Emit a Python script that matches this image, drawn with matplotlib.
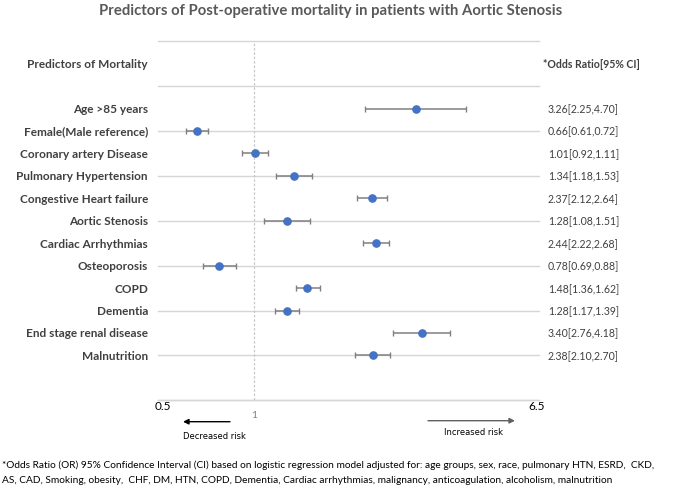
import matplotlib
matplotlib.use("Agg")
import matplotlib.pyplot as plt
from matplotlib.transforms import blended_transform_factory
import numpy as np

predictors = ["Age >85 years", "Female(Male reference)", "Coronary artery Disease",
              "Pulmonary Hypertension", "Congestive Heart failure", "Aortic Stenosis",
              "Cardiac Arrhythmias", "Osteoporosis", "COPD", "Dementia",
              "End stage renal disease", "Malnutrition"]
odds = [3.26, 0.66, 1.01, 1.34, 2.37, 1.28, 2.44, 0.78, 1.48, 1.28, 3.40, 2.38]
lower = [2.25, 0.61, 0.92, 1.18, 2.12, 1.08, 2.22, 0.69, 1.36, 1.17, 2.76, 2.10]
upper = [4.70, 0.72, 1.11, 1.53, 2.64, 1.51, 2.68, 0.88, 1.62, 1.39, 4.18, 2.70]
or_labels = ["3.26[2.25,4.70]", "0.66[0.61,0.72]", "1.01[0.92,1.11]", "1.34[1.18,1.53]",
             "2.37[2.12,2.64]", "1.28[1.08,1.51]", "2.44[2.22,2.68]", "0.78[0.69,0.88]",
             "1.48[1.36,1.62]", "1.28[1.17,1.39]", "3.40[2.76,4.18]", "2.38[2.10,2.70]"]

title = "Predictors of Post-operative mortality in patients with Aortic Stenosis"
footnote1 = ("*Odds Ratio (OR) 95% Confidence Interval (CI) based on logistic regression model adjusted for: "
             "age groups, sex, race, pulmonary HTN, ESRD,  CKD,")
footnote2 = ("AS, CAD, Smoking, obesity,  CHF, DM, HTN, COPD, Dementia, Cardiac arrhythmias, malignancy, "
             "anticoagulation, alcoholism, malnutrition")

W, H = 685, 489
fig = plt.figure(figsize=(W / 100, H / 100), dpi=100)
FONT = "Lato"
plt.rcParams["font.family"] = [FONT, "DejaVu Sans"]

L, R, T, B = 158.4, 539.0, 42.3, 401.3
ax = fig.add_axes([L / W, 1 - B / H, (R - L) / W, (B - T) / H])
ax.set_xscale("log")
ax.set_xlim(0.5, 8)
ax.set_ylim(14, -2)
for s in ax.spines.values():
    s.set_visible(False)
ax.set_xticks([])
ax.set_yticks([])
ax.xaxis.set_minor_locator(matplotlib.ticker.NullLocator())

for g in range(-2, 15, 2):
    ax.axhline(g, color="#d6d6d6", lw=1.0, zorder=1, clip_on=False)
ax.axvline(1, color="#c8c8c8", lw=0.9, ls=(0, (2, 1.5)), zorder=1)

ypos = np.arange(1, len(predictors) + 1)
odds_a = np.array(odds)
err = np.vstack([odds_a - np.array(lower), np.array(upper) - odds_a])
ax.errorbar(odds, ypos, xerr=err, fmt="o", color="#4472C4", ms=5.2,
            ecolor="#808080", elinewidth=1.1, capsize=2.4, capthick=1.0, zorder=3)

tr = blended_transform_factory(ax.transAxes, ax.transData)
lab_color = "#404040"
lx = (148 - L) / (R - L)
rx = (548 - L) / (R - L)
for y, p in zip(ypos, predictors):
    ax.text(lx, y, p, transform=tr, ha="right", va="center",
            fontsize=8.5, fontweight="bold", color=lab_color)
ax.text(lx, -1, "Predictors of Mortality", transform=tr, ha="right", va="center",
        fontsize=8.5, fontweight="bold", color=lab_color)
for y, s in zip(ypos, or_labels):
    ax.text(rx, y, s, transform=tr, ha="left", va="center", fontsize=7.6, color=lab_color)
ax.text((543 - L) / (R - L), -1, "*Odds Ratio[95% CI]", transform=tr, ha="left", va="center",
        fontsize=7.6, fontweight="bold", color=lab_color)

def fp(x, y):
    return (x / W, 1 - y / H)

fig.text(*fp(330.5, 10.5), title, ha="center", va="center", fontsize=10.7,
         fontweight="bold", color="#595959")

fig.text(*fp(163, 406), "0.5", ha="center", va="center", fontsize=8.5, color="black")
fig.text(*fp(537, 406), "6.5", ha="center", va="center", fontsize=8.5, color="black")
fig.text(*fp(254, 416), "1", ha="center", va="center", fontsize=7.5, color="#808080")
fig.text(*fp(214, 436.5), "Decreased risk", ha="center", va="center", fontsize=6,
         color="black", family="DejaVu Sans")
fig.text(*fp(474, 433), "Increased risk", ha="center", va="center", fontsize=6,
         color="black", family="DejaVu Sans")

ax2 = fig.add_axes([0, 0, 1, 1], facecolor="none")
ax2.set_xlim(0, W)
ax2.set_ylim(H, 0)
ax2.axis("off")
ax2.plot([L, R], [B, B], color="#d6d6d6", lw=1.0, zorder=0)
ax2.annotate("", xy=(183, 422.7), xytext=(230, 422.7),
             arrowprops=dict(arrowstyle="-|>", color="black", lw=1.0, mutation_scale=8,
                             shrinkA=0, shrinkB=0))
ax2.annotate("", xy=(515, 421.7), xytext=(428, 421.7),
             arrowprops=dict(arrowstyle="-|>", color="#606060", lw=1.0, mutation_scale=8,
                             shrinkA=0, shrinkB=0))

fig.text(*fp(2, 465), footnote1, ha="left", va="center", fontsize=7.3, color="black")
fig.text(*fp(2, 481), footnote2, ha="left", va="center", fontsize=7.3, color="black")

fig.savefig("out.png", dpi=100)
